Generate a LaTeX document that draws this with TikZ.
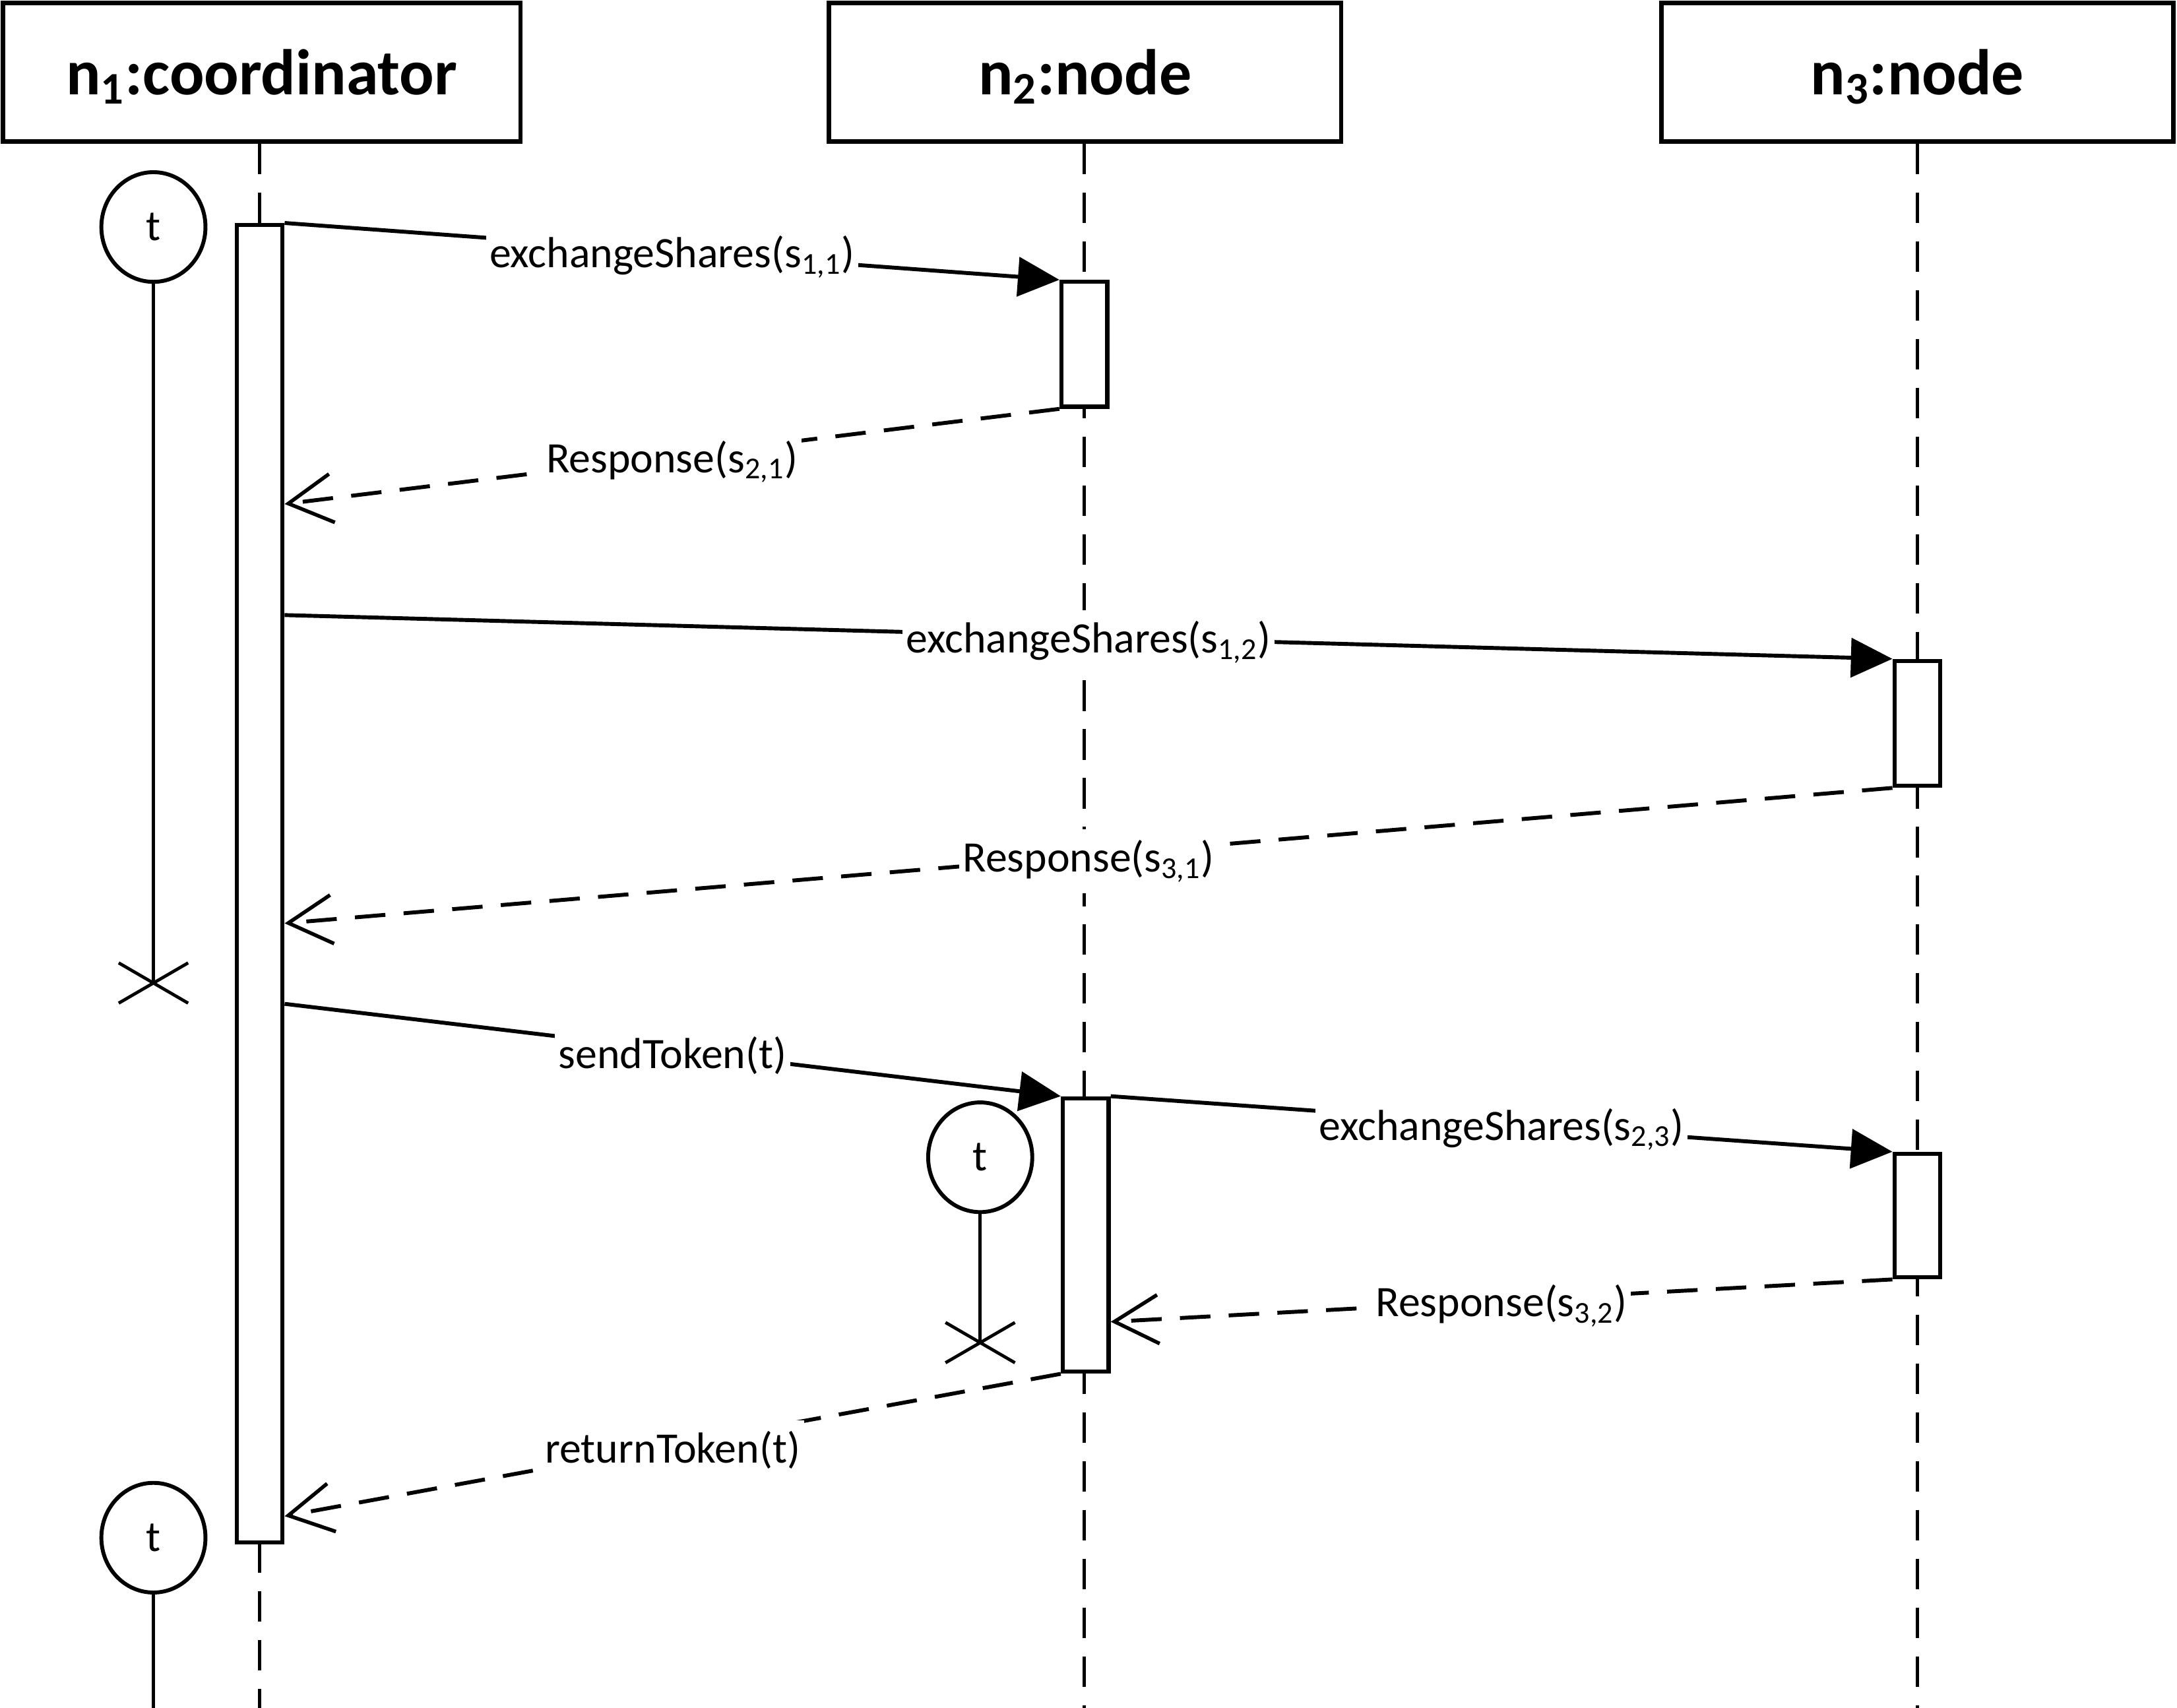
\documentclass[tikz,border=0pt]{standalone}
\usepackage{fontspec}
\setmainfont{Carlito}
\usetikzlibrary{arrows.meta,shapes.geometric}
\newcommand\msgfont{\fontsize{17.8}{20}\selectfont}
\begin{document}
\begin{tikzpicture}[x=0.02cm,y=-0.02cm,
  head/.style={draw,line width=1.8pt,minimum height=2cm,inner sep=0,text height=20.5pt,text depth=2pt,font=\fontsize{26.5}{30}\selectfont\bfseries},
  life/.style={line width=1.4pt,dash pattern=on 12.5pt off 7.5pt},
  bar/.style={draw,fill=white,line width=1.7pt,minimum width=0.66cm,inner sep=0},
  tok/.style={draw,ellipse,fill=white,line width=1.6pt,minimum width=1.5cm,minimum height=1.58cm,inner sep=0,font=\msgfont},
  stem/.style={line width=1.3pt},
  msg/.style={line width=1.6pt,-{Triangle[length=17pt,width=16pt]}},
  ret/.style={line width=1.6pt,dash pattern=on 12.5pt off 7.5pt,-{Straight Barb[length=18pt,width=20pt,line width=1.5pt]}},
  lbl/.style={fill=white,inner xsep=1.5pt,inner ysep=4.5pt,yshift=-2.2pt,font=\msgfont}
]
\useasboundingbox (0,0) rectangle (1568,1230);

% heads
\node[head,minimum width=7.46cm] (n1) at (188.5,52) {n\textsubscript{1}:coordinator};
\node[head,minimum width=7.38cm] (n2) at (781.5,52) {n\textsubscript{2}:node};
\node[head,minimum width=7.38cm] (n3) at (1381,52) {n\textsubscript{3}:node};

% lifeline ends
\coordinate (l1) at (187,1230);
\coordinate (l2) at (781,1230);
\coordinate (l3) at (1381,1230);

% lifelines
\path (187,636.5) coordinate (c1);
\draw[life] (n1.south -| c1) -- (c1 |- 0,162);
\draw[life] (c1 |- 0,1111) -- (l1);
\draw[life] (n2.south -| l2) -- (l2);
\draw[life] (n3.south -| l3) -- (l3);

% activation bars
\node[bar,minimum height=18.98cm] (a1) at (187,636.5) {};
\node[bar,minimum height=1.8cm] (a2) at (781,248) {};
\node[bar,minimum height=1.8cm] (a3) at (1381,521) {};
\node[bar,minimum height=3.94cm] (a4) at (782,889.5) {};
\node[bar,minimum height=1.78cm] (a5) at (1381,875.5) {};

% message end points on bars
\coordinate (e2) at (a1.east |- 0,363);
\coordinate (s3) at (a1.east |- 0,443);
\coordinate (e4) at (a1.east |- 0,665);
\coordinate (s5) at (a1.east |- 0,723);
\coordinate (e7) at (a4.east |- 0,952);
\coordinate (e8) at (a1.east |- 0,1092);

% messages
\draw[msg] (a1.north east) -- node[lbl]{exchangeShares(s\textsubscript{1,1})} (a2.north west);
\draw[ret] (a2.south west) -- node[lbl]{Response(s\textsubscript{2,1})} (e2);
\draw[msg] (s3) -- node[lbl]{exchangeShares(s\textsubscript{1,2})} (a3.north west);
\draw[ret] (a3.south west) -- node[lbl]{Response(s\textsubscript{3,1})} (e4);
\draw[msg] (s5) -- node[lbl]{sendToken(t)} (a4.north west);
\draw[msg] (a4.north east) -- node[lbl]{exchangeShares(s\textsubscript{2,3})} (a5.north west);
\draw[ret] (a5.south west) -- node[lbl]{Response(s\textsubscript{3,2})} (e7);
\draw[ret] (a4.south west) -- node[lbl]{returnToken(t)} (e8);

% tokens
\node[tok] (t1) at (110.5,163.5) {t};
\coordinate (x1) at (110.5,708);
\draw[stem] (t1.south) -- (x1);
\draw[stem] (x1) ++(-25,-14.5) -- ++(50,29);
\draw[stem] (x1) ++(-25,14.5) -- ++(50,-29);

\node[tok] (t2) at (706,833.5) {t};
\coordinate (x2) at (706,967);
\draw[stem] (t2.south) -- (x2);
\draw[stem] (x2) ++(-25,-14.5) -- ++(50,29);
\draw[stem] (x2) ++(-25,14.5) -- ++(50,-29);

\node[tok] (t3) at (110.5,1107.5) {t};
\coordinate (b3) at (110.5,1230);
\draw[stem] (t3.south) -- (b3);
\end{tikzpicture}
\end{document}
